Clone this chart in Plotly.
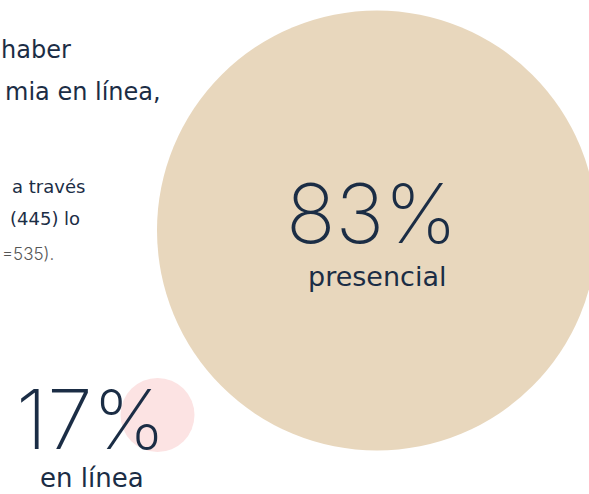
import plotly.graph_objects as go

# Data
categories = ["presencial", "en línea"]
values = [83, 17]
colors = ["#E8D7BD", "#FCE3E3"]

intro_title = ["haber", "mia en línea,"]
intro_body = ["a través", "(445) lo"]
intro_note = "=535)."

# Layout/style settings
W, H = 589, 494
centers_x = [377, 157.5]
centers_y = [230.5, 415]
diameters = [440, 74]
navy = "#1B2D45"
num_font = "Inter, 'Open Sans', sans-serif"
txt_font = "'DejaVu Sans', 'Open Sans', sans-serif"

fig = go.Figure()
fig.add_trace(go.Scatter(
    x=centers_x, y=centers_y, mode="markers",
    marker=dict(size=diameters, color=colors, line=dict(width=0), opacity=1),
    cliponaxis=False, hoverinfo="skip", showlegend=False,
))

# Percent + label annotations
pct_pos = [(371, 213), (91, 419)]
lab_pos = [(377, 276), (92, 478)]
lab_size = [27, 26]
for i, cat in enumerate(categories):
    fig.add_annotation(x=pct_pos[i][0], y=pct_pos[i][1], text=f"{values[i]}%",
                       showarrow=False, xanchor="center", yanchor="middle",
                       font=dict(family=num_font, size=82, color=navy, weight=200))
    fig.add_annotation(x=lab_pos[i][0], y=lab_pos[i][1], text=cat,
                       showarrow=False, xanchor="center", yanchor="middle",
                       font=dict(family=txt_font, size=lab_size[i], color=navy))

# Left intro text (cropped at the left edge)
title_pos = [(73, 50), (163, 92)]
for (x, y), t in zip(title_pos, intro_title):
    fig.add_annotation(x=x, y=y, text=t, showarrow=False, xanchor="right", yanchor="middle",
                       font=dict(family=txt_font, size=24, color=navy))
body_pos = [(87, 186), (82, 218)]
for (x, y), t in zip(body_pos, intro_body):
    fig.add_annotation(x=x, y=y, text=t, showarrow=False, xanchor="right", yanchor="middle",
                       font=dict(family=txt_font, size=18, color=navy))
fig.add_annotation(x=56, y=254, text=intro_note, showarrow=False, xanchor="right", yanchor="middle",
                   font=dict(family=num_font, size=17, color="#555555", weight=300))

fig.update_layout(
    width=W, height=H, margin=dict(l=0, r=0, t=0, b=0),
    paper_bgcolor="white", plot_bgcolor="white",
    xaxis=dict(range=[0, W], visible=False, fixedrange=True),
    yaxis=dict(range=[H, 0], visible=False, fixedrange=True),
)
fig.write_html("out.html", config={"displayModeBar": False},
               post_script="document.body.style.margin='0';document.body.style.overflow='hidden';")
